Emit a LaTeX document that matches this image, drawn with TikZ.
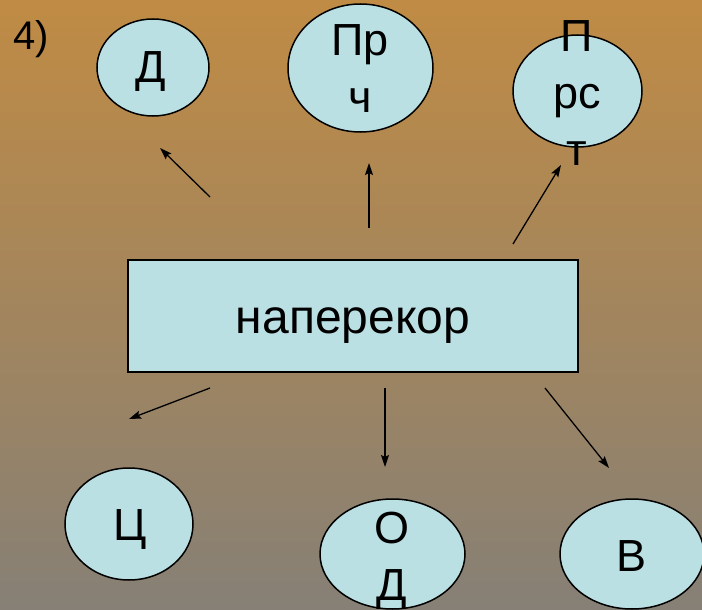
\documentclass[tikz,border=0pt]{standalone}
\usepackage{fontspec}
\setmainfont{Liberation Sans}
\usetikzlibrary{shapes.geometric,arrows.meta}
\definecolor{bgtop}{RGB}{192,139,68}
\definecolor{bgbot}{RGB}{134,128,118}
\definecolor{boxfill}{RGB}{187,224,228}
\begin{document}
\begin{tikzpicture}[x=1pt,y=-1pt,
  oval/.style={ellipse,draw=black,line width=1.5pt,fill=boxfill,inner sep=0pt,outer sep=0pt},
  lbl/.style={anchor=base,inner sep=0pt,align=center,font=\fontsize{45}{57}\selectfont},
  arr/.style={draw=black,line width=1.3pt,-{Stealth[length=12pt,width=8pt,inset=2pt]}}]
\shade[top color=bgtop,bottom color=bgbot] (0,0) rectangle (702,610);
\useasboundingbox (0,0) rectangle (702,610);

% number
\node[anchor=base west,inner sep=0pt,font=\fontsize{40}{48}\selectfont] (num) at (13,50) {4)};

% ellipses
\node[oval,minimum width=112pt,minimum height=97pt] (d) at (153,67.5) {};
\node[oval,minimum width=145pt,minimum height=128pt] (prch) at (360.5,68) {};
\node[oval,minimum width=129pt,minimum height=112pt] (prst) at (577.5,91) {};
\node[oval,minimum width=128pt,minimum height=112pt] (ts) at (129,524) {};
\node[oval,minimum width=145pt,minimum height=110pt] (od) at (392.5,554) {};
\node[oval,minimum width=144pt,minimum height=110pt] (v) at (632,554) {};

% main box
\node[draw=black,line width=2pt,fill=boxfill,minimum width=450pt,minimum height=112pt,inner sep=0pt] (main) at (353,316) {};

% labels (anchor base = baseline of the last line)
\node[lbl] (dt) at (151,83) {Д};
\node[lbl] (prcht) at (360,112) {Пр\\ч};
\node[lbl] (prstt) at (577,165) {П\\рс\\т};
\node[lbl] (tst) at (130,540) {Ц};
\node[lbl] (odt) at (392,600) {О\\Д};
\node[lbl] (vt) at (632,571) {В};
\node[anchor=base,inner sep=0pt,font=\fontsize{48}{58}\selectfont] (maint) at (353,333) {наперекор};

% arrow ends
\coordinate (a1s) at (210,197); \coordinate (a1e) at (160,148);
\coordinate (a2s) at (369,228); \coordinate (a2e) at (369,163);
\coordinate (a3s) at (513,244); \coordinate (a3e) at (561,165);
\coordinate (a4s) at (210,388); \coordinate (a4e) at (129,419);
\coordinate (a5s) at (385,388); \coordinate (a5e) at (385,467);
\coordinate (a6s) at (545,388); \coordinate (a6e) at (609,468);

\draw[arr] (a1s) -- (a1e);
\draw[arr] (a2s) -- (a2e);
\draw[arr] (a3s) -- (a3e);
\draw[arr] (a4s) -- (a4e);
\draw[arr] (a5s) -- (a5e);
\draw[arr] (a6s) -- (a6e);
\end{tikzpicture}
\end{document}
